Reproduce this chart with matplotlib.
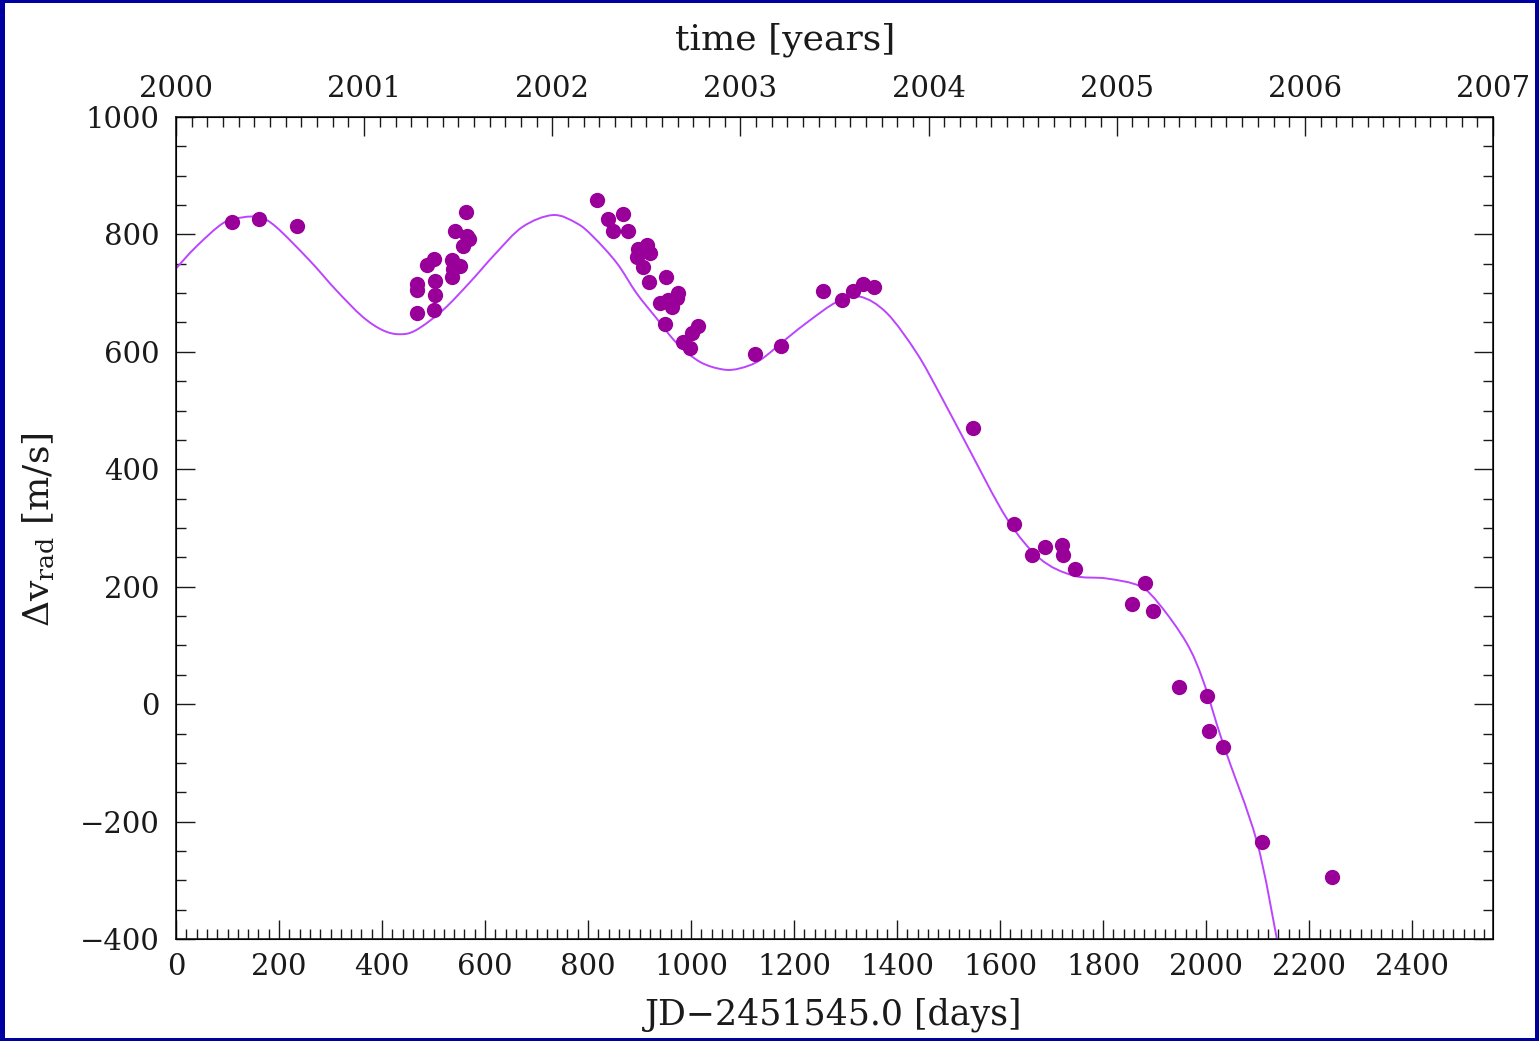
import matplotlib
matplotlib.use("Agg")
import matplotlib.pyplot as plt
from matplotlib.patches import Rectangle, PathPatch
from matplotlib.path import Path
from matplotlib.ticker import MultipleLocator

plt.rcParams['font.family'] = ['DejaVu Serif']
plt.rcParams['mathtext.fontset'] = 'dejavuserif'

# Radial velocity measurements: days since JD 2451545.0, velocity in m/s
obs_days = [109, 161, 235,
            467, 467, 467, 488, 501, 500, 503, 503, 536, 537, 536, 551,
            542, 557, 564, 563, 568,
            817, 839, 867, 849, 878, 897, 914, 920, 894, 907, 951, 919,
            940, 955, 962, 975, 972, 949, 1014, 1001, 985, 998,
            1124, 1174, 1257, 1292, 1315, 1334, 1355,
            1548, 1626, 1661, 1687, 1721, 1722, 1745, 1881, 1855, 1897,
            1948, 2001, 2006, 2033, 2109, 2244]
obs_vrad = [821, 826, 814,
            667, 706, 716, 748, 758, 672, 697, 720, 727, 741, 757, 746,
            806, 781, 798, 838, 792,
            859, 827, 835, 806, 805, 776, 782, 768, 762, 745, 728, 719,
            684, 688, 677, 700, 692, 648, 644, 632, 617, 606,
            596, 610, 704, 689, 704, 716, 710,
            470, 306, 254, 267, 271, 254, 231, 207, 170, 159,
            29, 14, -45, -73, -234, -294]

# Orbit model curve sampled along the time axis
model_days = [0, 39, 91, 129, 162, 194, 259, 311, 362, 401, 434, 466, 518,
              569, 621, 673, 732, 778, 810, 856, 894, 933, 972, 1017, 1062,
              1095, 1134, 1186, 1231, 1283, 1328, 1380, 1438, 1483, 1535,
              1613, 1677, 1742, 1807, 1871, 1910, 1962, 1994, 2033, 2098,
              2137]
model_vrad = [742, 779, 819, 829, 829, 813, 756, 705, 660, 637, 630, 637,
              671, 717, 768, 813, 833, 819, 796, 751, 700, 657, 615, 583,
              570, 572, 586, 623, 654, 685, 694, 666, 598, 528, 442, 316,
              248, 219, 214, 201, 169, 104, 40, -68, -233, -399]

DAYS_PER_YEAR = 365.25
YEAR0 = 2000
X_MAX = 7 * DAYS_PER_YEAR


def smooth_path(xs, ys):
    """Cubic Bezier path through the samples (Catmull-Rom tangents)."""
    pts = list(zip(xs, ys))
    n = len(pts)
    verts = [pts[0]]
    codes = [Path.MOVETO]
    for i in range(n - 1):
        p0 = pts[i - 1] if i > 0 else pts[i]
        p1 = pts[i]
        p2 = pts[i + 1]
        p3 = pts[i + 2] if i + 2 < n else pts[i + 1]
        c1 = (p1[0] + (p2[0] - p0[0]) / 6, p1[1] + (p2[1] - p0[1]) / 6)
        c2 = (p2[0] - (p3[0] - p1[0]) / 6, p2[1] - (p3[1] - p1[1]) / 6)
        verts += [c1, c2, p2]
        codes += [Path.CURVE4] * 3
    return Path(verts, codes)


fig = plt.figure(figsize=(15.39, 10.41), dpi=100)
ax = fig.add_axes([176 / 1539, 1 - 939 / 1041, (1493 - 176) / 1539, (939 - 117) / 1041])

ax.add_patch(PathPatch(smooth_path(model_days, model_vrad), fill=False,
                       edgecolor='#BB44FF', lw=1.4, zorder=2))
ax.plot(obs_days, obs_vrad, 'o', color='#990099', ms=11, mec='none', zorder=3)

ax.set_xlim(0, X_MAX)
ax.set_ylim(-400, 1000)

tick_fs = 21
ink = '#1a1a1a'
ax.xaxis.set_major_locator(MultipleLocator(200))
ax.xaxis.set_minor_locator(MultipleLocator(20))
ax.yaxis.set_major_locator(MultipleLocator(200))
ax.yaxis.set_minor_locator(MultipleLocator(50))
ax.tick_params(which='both', direction='in', top=False, right=True, colors=ink,
               labelcolor=ink, width=1)
ax.tick_params(which='major', length=14, labelsize=tick_fs)
ax.tick_params(which='minor', length=7)
ax.tick_params(axis='x', which='major', pad=10)
ax.tick_params(axis='y', which='major', pad=12)
for s in ax.spines.values():
    s.set_linewidth(1.2)
    s.set_color(ink)

# Calendar-year axis along the top
ax2 = ax.twiny()
ax2.set_xlim(YEAR0, YEAR0 + X_MAX / DAYS_PER_YEAR)
ax2.xaxis.set_major_locator(MultipleLocator(1))
ax2.xaxis.set_minor_locator(MultipleLocator(1 / 12))
ax2.tick_params(which='both', direction='in', colors=ink, labelcolor=ink, width=1)
ax2.tick_params(which='major', length=14, labelsize=tick_fs, pad=10)
ax2.tick_params(which='minor', length=7)
ax2.xaxis.set_major_formatter(plt.FuncFormatter(lambda v, p: f"{int(round(v))}"))

fig.text(785 / 1539, 1 - 40 / 1041, 'time [years]', ha='center', va='center',
         fontsize=26, color=ink)
fig.text(834 / 1539, 1 - 1015 / 1041, 'JD\u22122451545.0 [days]', ha='center', va='center',
         fontsize=25, color=ink)
fig.text(38 / 1539, 1 - 530 / 1041, r'$\Delta$v$_{\mathrm{rad}}$ [m/s]', ha='center',
         va='center', rotation=90, fontsize=26, color=ink)

# Dark blue frame around the figure
frame = '#0000A0'
W, H = 1539, 1041
for (x0, y0, w, h) in [(0, 0, 5, H), (0, H - 3, W, 3), (W - 4, 0, 4, H), (0, 0, W, 3)]:
    fig.patches.append(Rectangle((x0 / W, y0 / H), w / W, h / H, transform=fig.transFigure,
                                 facecolor=frame, edgecolor='none', zorder=10))

fig.savefig('out.png', dpi=100)
